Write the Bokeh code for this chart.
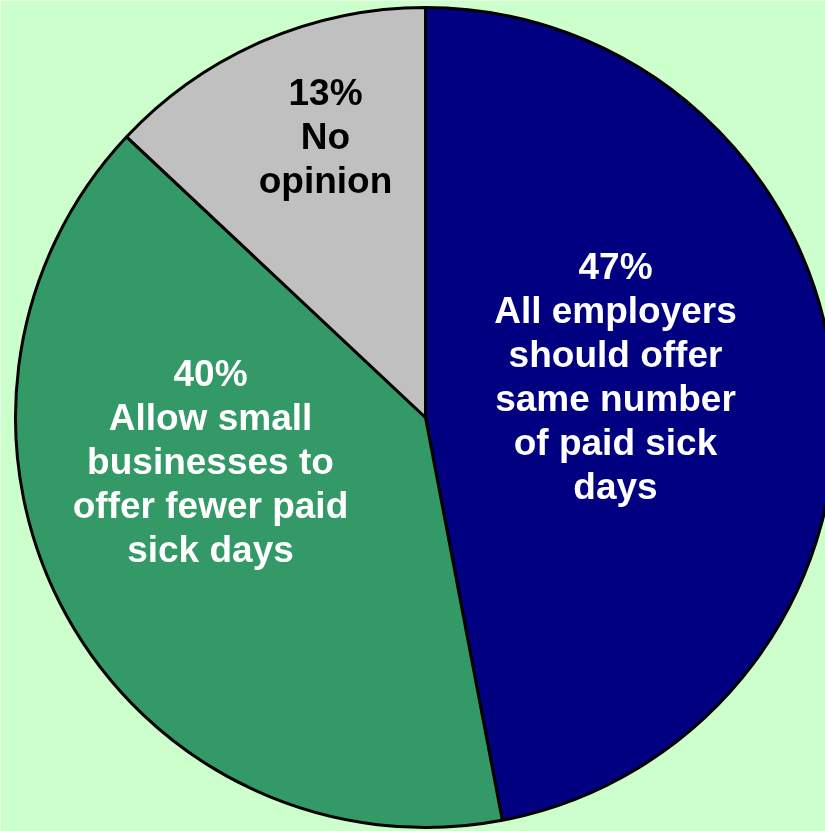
import math
from bokeh.plotting import figure
from bokeh.models import Range1d, ColumnDataSource
from bokeh.core.properties import value
from bokeh.embed import file_html
from bokeh.resources import INLINE

# ---- data ----
categories = ["All employers should offer same number of paid sick days",
              "Allow small businesses to offer fewer paid sick days",
              "No opinion"]
percents = [47, 40, 13]
labels = ["47%\nAll employers\nshould offer\nsame number\nof paid sick\ndays",
          "40%\nAllow small\nbusinesses to\noffer fewer paid\nsick days",
          "13%\nNo\nopinion"]

# ---- styles / layout ----
colors = ["#000080", "#339966", "#C0C0C0"]
text_colors = ["white", "white", "black"]
label_x = [190, -215, -100]      # label anchor (first line), pixels from pie centre
label_y = [151, 44, 325]
line_gap = 44
R = 410
W, H = 825, 831
cx, cy = 425, 417  # pie centre in page pixels

p = figure(width=W, height=H, output_backend="svg", toolbar_location=None,
           x_range=Range1d(-cx, W - cx), y_range=Range1d(cy - H, cy),
           min_border=0, background_fill_color="#CCFFCC", border_fill_color="#CCFFCC")
p.axis.visible = False
p.grid.visible = False
p.outline_line_color = None
p.styles = {"position": "fixed", "left": "0px", "top": "0px"}

total = sum(percents)
starts, ends = [], []
cum = 0
for v in percents:
    starts.append(math.pi / 2 - 2 * math.pi * cum / total)
    cum += v
    ends.append(math.pi / 2 - 2 * math.pi * cum / total)

src = ColumnDataSource(dict(start=starts, end=ends, color=colors, cat=categories))
p.wedge(x=0, y=0, radius=R, start_angle="start", end_angle="end", direction="clock",
        fill_color="color", line_color="black", line_width=3, source=src)

tx, ty, tt, tc = [], [], [], []
for lab, x0, y0, col in zip(labels, label_x, label_y, text_colors):
    for i, line in enumerate(lab.split("\n")):
        tx.append(x0)
        ty.append(y0 - i * line_gap)
        tt.append(line)
        tc.append(col)
p.text(x=tx, y=ty, text=tt, text_color=tc, text_align="center", text_baseline="alphabetic",
       text_font=value("Liberation Sans"), text_font_style="bold", text_font_size="37px")

open("out.html", "w").write(file_html(p, INLINE))
